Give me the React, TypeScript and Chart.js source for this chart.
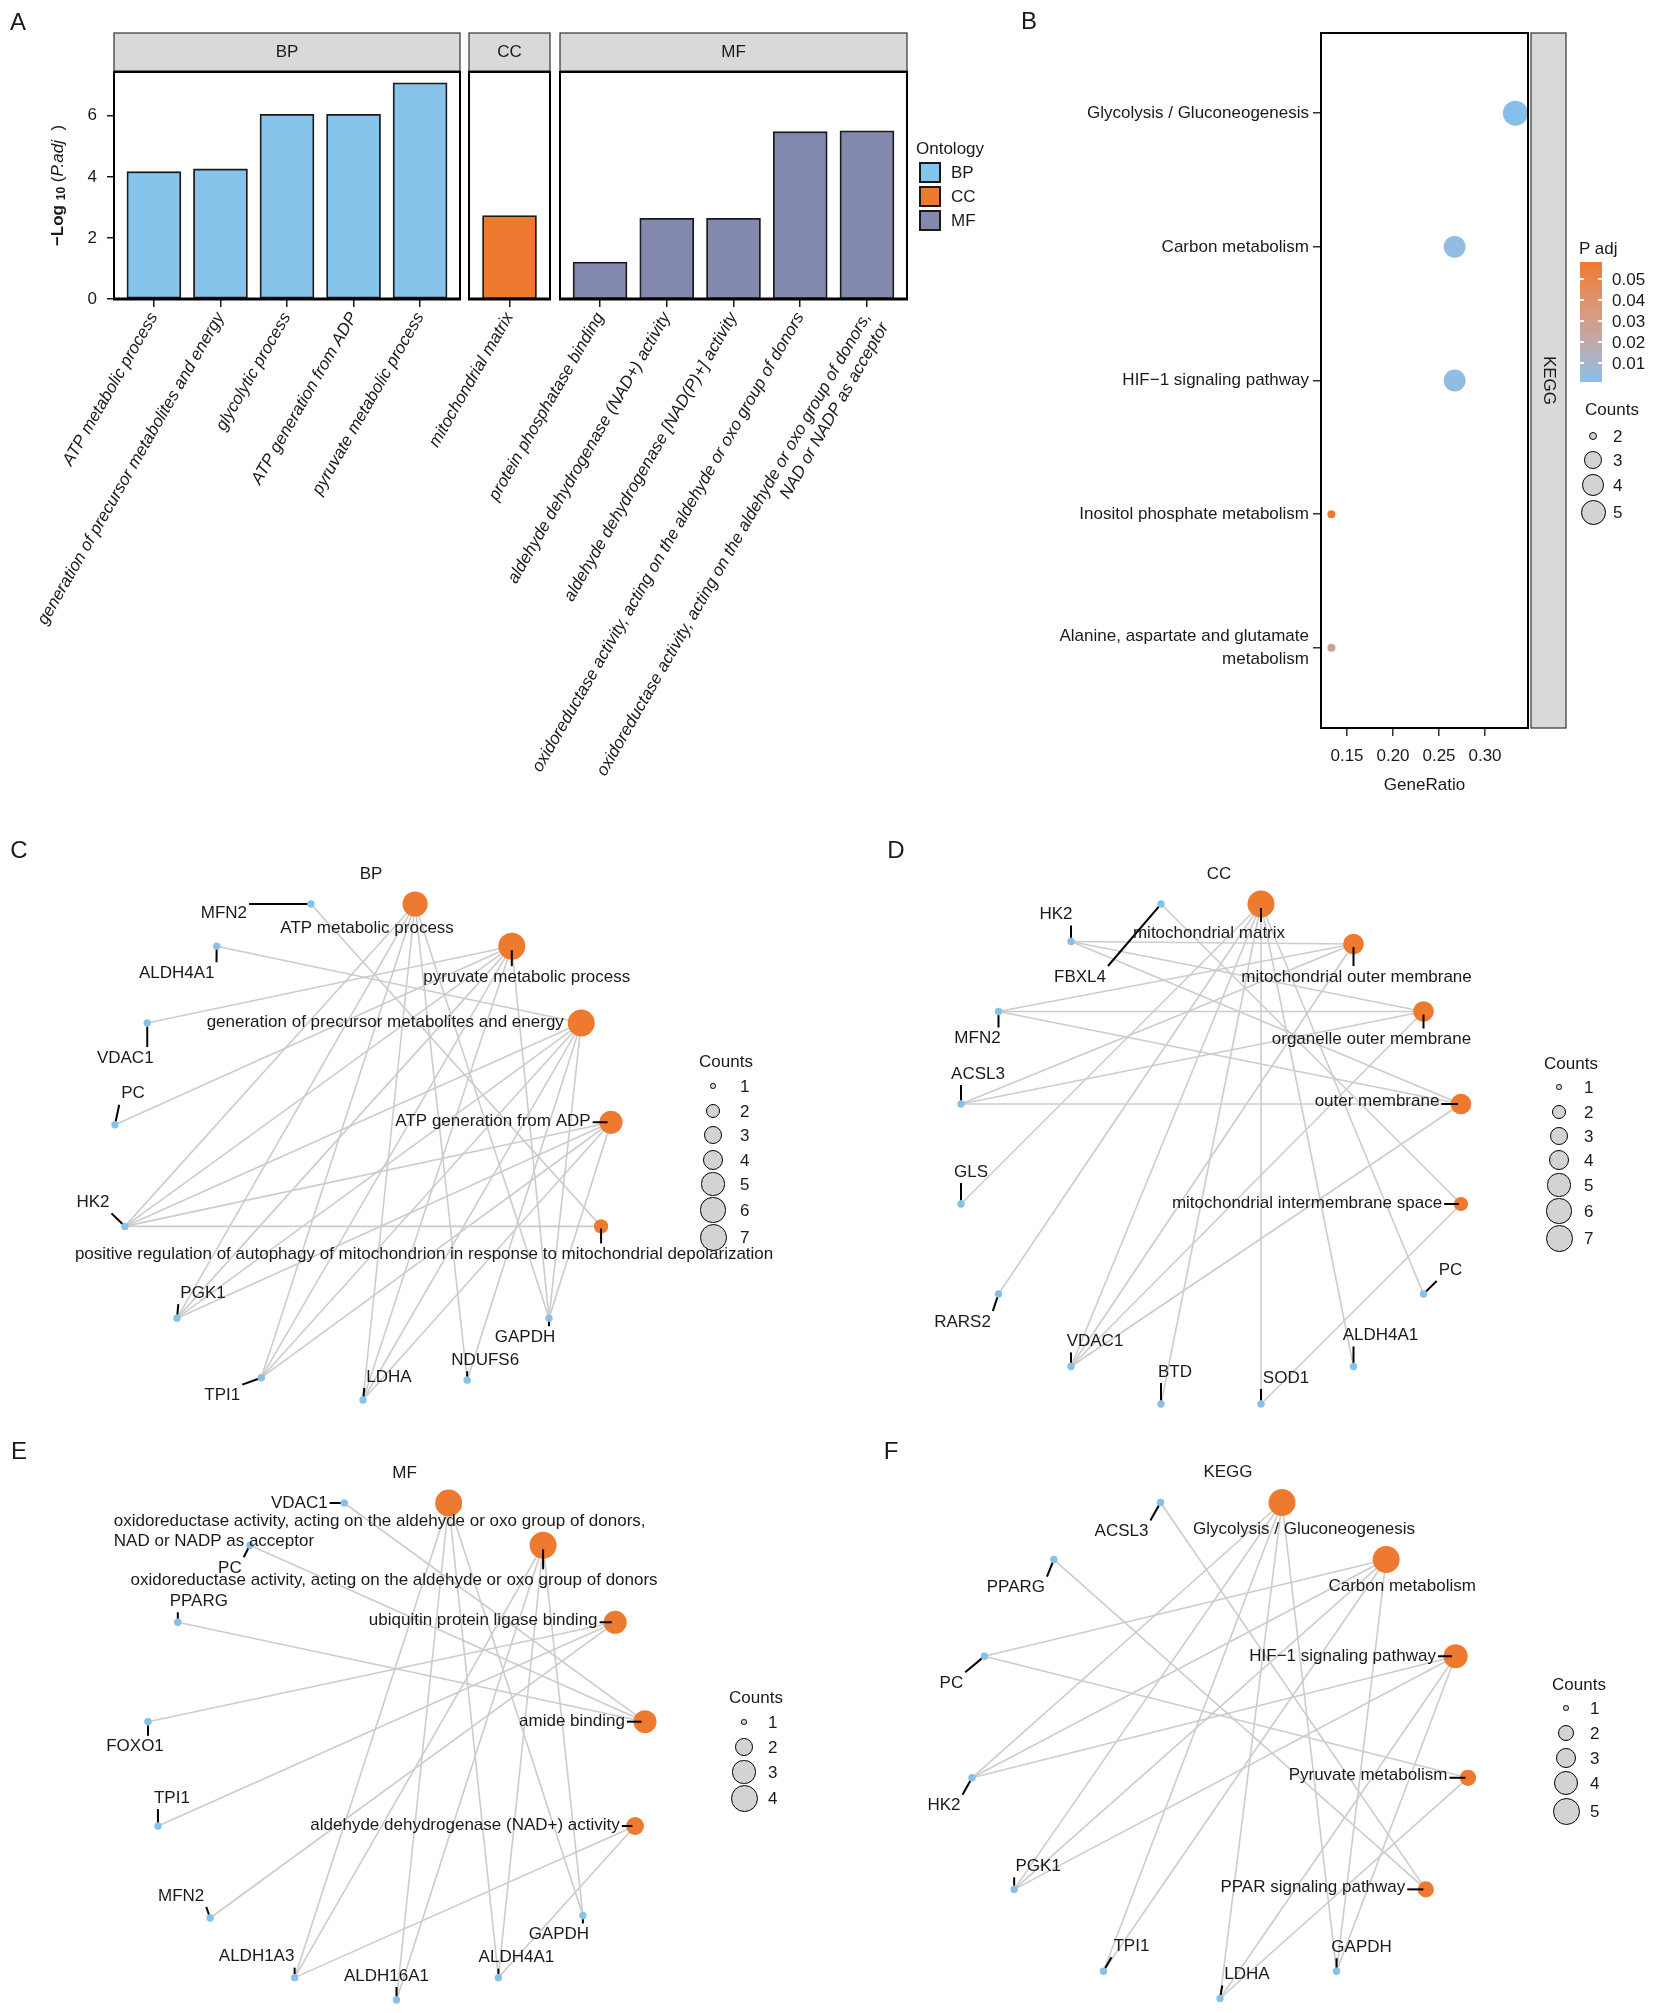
import React, { useEffect, useRef } from "react";
import { Chart, registerables } from "chart.js";

Chart.register(...registerables);

const FONT = "'Liberation Sans', Arial, Helvetica, sans-serif";
Chart.defaults.font.family = FONT;
const INK = "#1a1a1a";
const BLUE_BAR = "#87C4EC";
const ORANGE = "#EE7A2F";
const SLATE = "#8389AE";
const NODE_BLUE = "#86C1EA";
const EDGE = "#CCCCCC";
const STRIP = "#D9D9D9";

// ---------------- Panel A data ----------------
const bpTerms = [
  "ATP metabolic process",
  "generation of precursor metabolites and energy",
  "glycolytic process",
  "ATP generation from ADP",
  "pyruvate metabolic process",
];
const bpLogP = [4.17, 4.26, 6.05, 6.05, 7.08];
const ccTerms = ["mitochondrial matrix"];
const ccLogP = [2.73];
const mfTerms = [
  "protein phosphatase binding",
  "aldehyde dehydrogenase (NAD+) activity",
  "aldehyde dehydrogenase [NAD(P)+] activity",
  "oxidoreductase activity, acting on the aldehyde or oxo group of donors",
  "oxidoreductase activity, acting on the aldehyde or oxo group of donors,\nNAD or NADP as acceptor",
];
const mfLogP = [1.21, 2.64, 2.64, 5.48, 5.51];
const yTicksA = [0, 2, 4, 6];
const ontologyNames = ["BP", "CC", "MF"];
const ontologyColors = [BLUE_BAR, ORANGE, SLATE];

// ---------------- Panel B data ----------------
const keggTerms = [
  "Glycolysis / Gluconeogenesis",
  "Carbon metabolism",
  "HIF\u22121 signaling pathway",
  "Inositol phosphate metabolism",
  "Alanine, aspartate and glutamate\nmetabolism",
];
const keggGeneRatio = [0.333, 0.267, 0.267, 0.133, 0.133];
const keggCounts = [5, 4, 4, 2, 2];
const keggPadj = [0.00095, 0.0035, 0.0035, 0.0581, 0.027];
const geneRatioTicks = [0.15, 0.2, 0.25, 0.3];
const geneRatioLimits = [0.1217, 0.3467];
const padjBreaks = [0.05, 0.04, 0.03, 0.02, 0.01];
const keggCountBreaks = [2, 3, 4, 5];

// ---------------- Panel C (BP network) ----------------
const bpNetTerms = [
  "ATP metabolic process",
  "pyruvate metabolic process",
  "generation of precursor metabolites and energy",
  "ATP generation from ADP",
  "positive regulation of autophagy of mitochondrion in response to mitochondrial depolarization",
];
const bpNetTermX = [0.21, 0.6, 0.88, 1.0, 0.96];
const bpNetTermY = [1.0, 0.83, 0.52, 0.12, -0.3];
const bpNetGenes = ["GAPDH", "NDUFS6", "LDHA", "TPI1", "PGK1", "HK2", "PC", "VDAC1", "ALDH4A1", "MFN2"];
const bpNetGeneX = [0.75, 0.42, 0.0, -0.41, -0.75, -0.96, -1.0, -0.87, -0.59, -0.21];
const bpNetGeneY = [-0.67, -0.92, -1.0, -0.91, -0.67, -0.3, 0.11, 0.52, 0.83, 1.0];
const bpNetLinks = [
  ["HK2", "PGK1", "TPI1", "LDHA", "NDUFS6", "GAPDH"],
  ["VDAC1", "PC", "HK2", "PGK1", "TPI1", "LDHA", "GAPDH"],
  ["ALDH4A1", "HK2", "PGK1", "TPI1", "LDHA", "NDUFS6", "GAPDH"],
  ["HK2", "PGK1", "TPI1", "LDHA", "GAPDH"],
  ["MFN2", "HK2"],
];
const bpNetTermNudge = [[-48, 24], [15, 31], [-196, -1], [-118, -1], [-177, 28]];
const bpNetGeneNudge = [[-24, 19], [18, -20], [26, -23], [-39, 18], [26, -25], [-32, -24], [18, -31], [-22, 35], [-40, 27], [-87, 9]];

// ---------------- Panel D (CC network) ----------------
const ccNetTerms = [
  "mitochondrial matrix",
  "mitochondrial outer membrane",
  "organelle outer membrane",
  "outer membrane",
  "mitochondrial intermembrane space",
];
const ccNetTermX = [0.2, 0.57, 0.85, 1.0, 1.0];
const ccNetTermY = [1.0, 0.84, 0.57, 0.2, -0.2];
const ccNetGenes = ["PC", "ALDH4A1", "SOD1", "BTD", "VDAC1", "RARS2", "GLS", "ACSL3", "MFN2", "HK2", "FBXL4"];
const ccNetGeneX = [0.85, 0.57, 0.2, -0.2, -0.56, -0.85, -1.0, -1.0, -0.85, -0.56, -0.2];
const ccNetGeneY = [-0.56, -0.85, -1.0, -1.0, -0.85, -0.56, -0.2, 0.2, 0.57, 0.85, 1.0];
const ccNetLinks = [
  ["GLS", "RARS2", "VDAC1", "BTD", "SOD1", "ALDH4A1", "PC"],
  ["HK2", "MFN2", "ACSL3", "VDAC1"],
  ["HK2", "MFN2", "ACSL3", "VDAC1"],
  ["HK2", "MFN2", "ACSL3", "VDAC1"],
  ["FBXL4", "SOD1"],
];
const ccNetTermNudge = [[-52, 29], [3, 33], [-52, 28], [-84, -3], [-154, -1]];
const ccNetGeneNudge = [[27, -24], [27, -31], [25, -26], [14, -32], [24, -25], [-36, 28], [10, -32], [17, -30], [-21, 27], [-15, -27], [-81, 73]];

// ---------------- Panel E (MF network) ----------------
const mfNetTerms = [
  "oxidoreductase activity, acting on the aldehyde or oxo group of donors,\nNAD or NADP as acceptor",
  "oxidoreductase activity, acting on the aldehyde or oxo group of donors",
  "ubiquitin protein ligase binding",
  "amide binding",
  "aldehyde dehydrogenase (NAD+) activity",
];
const mfNetTermX = [0.21, 0.59, 0.88, 1.0, 0.96];
const mfNetTermY = [1.0, 0.83, 0.52, 0.12, -0.3];
const mfNetGenes = ["GAPDH", "ALDH4A1", "ALDH16A1", "ALDH1A3", "MFN2", "TPI1", "FOXO1", "PPARG", "PC", "VDAC1"];
const mfNetGeneX = [0.75, 0.41, 0.0, -0.41, -0.75, -0.96, -1.0, -0.88, -0.59, -0.21];
const mfNetGeneY = [-0.66, -0.91, -1.0, -0.91, -0.67, -0.3, 0.12, 0.52, 0.83, 1.0];
const mfNetLinks = [
  ["ALDH1A3", "ALDH16A1", "ALDH4A1", "GAPDH"],
  ["ALDH1A3", "ALDH16A1", "ALDH4A1", "GAPDH"],
  ["FOXO1", "TPI1", "MFN2"],
  ["PPARG", "PC", "VDAC1"],
  ["ALDH1A3", "ALDH4A1"],
];
const mfNetTermNudge = [[-69, 28], [-149, 35], [-132, -2], [-73, 0], [-170, -1]];
const mfNetGeneNudge = [[-24, 19], [18, -20], [-10, -24], [-38, -21], [-29, -22], [14, -28], [-13, 25], [21, -21], [-20, 23], [-45, 0]];

// ---------------- Panel F (KEGG network) ----------------
const kgNetTerms = [
  "Glycolysis / Gluconeogenesis",
  "Carbon metabolism",
  "HIF\u22121 signaling pathway",
  "Pyruvate metabolism",
  "PPAR signaling pathway",
];
const kgNetTermX = [0.25, 0.67, 0.95, 1.0, 0.83];
const kgNetTermY = [1.0, 0.77, 0.38, -0.11, -0.56];
const kgNetGenes = ["GAPDH", "LDHA", "TPI1", "PGK1", "HK2", "PC", "PPARG", "ACSL3"];
const kgNetGeneX = [0.47, 0.0, -0.47, -0.83, -1.0, -0.95, -0.67, -0.24];
const kgNetGeneY = [-0.89, -1.0, -0.89, -0.56, -0.11, 0.38, 0.77, 1.0];
const kgNetLinks = [
  ["HK2", "PGK1", "TPI1", "LDHA", "GAPDH"],
  ["PC", "HK2", "PGK1", "TPI1", "GAPDH"],
  ["HK2", "PGK1", "LDHA", "GAPDH"],
  ["PC", "LDHA"],
  ["PPARG", "ACSL3"],
];
const kgNetTermNudge = [[22, 27], [16, 27], [-113, 0], [-100, -2], [-113, -2]];
const kgNetGeneNudge = [[25, -24], [27, -24], [28, -25], [24, -23], [-28, 28], [-33, 27], [-38, 28], [-39, 29]];

// ---------------- helpers ----------------
const netSize = (n: number, nMax: number) => (5.4 + 21.6 * Math.sqrt((n - 1) / (nMax - 1))) / 2;
const keggSize = (n: number) => (8 + 17 * Math.sqrt((n - 2) / 3)) / 2;
const GENE_R = 3.7;

const LOW_RGB = [134, 192, 234];
const HIGH_RGB = [238, 122, 47];
const toLin = (c: number) => { c /= 255; return c <= 0.04045 ? c / 12.92 : Math.pow((c + 0.055) / 1.055, 2.4); };
const fromLin = (c: number) => { const v = c <= 0.0031308 ? 12.92 * c : 1.055 * Math.pow(c, 1 / 2.4) - 0.055; return Math.round(Math.min(1, Math.max(0, v)) * 255); };
function rgb2lab(rgb: number[]) {
  const [r, g, b] = rgb.map(toLin);
  const X = (0.4124564 * r + 0.3575761 * g + 0.1804375 * b) / 0.95047;
  const Y = 0.2126729 * r + 0.7151522 * g + 0.072175 * b;
  const Z = (0.0193339 * r + 0.119192 * g + 0.9503041 * b) / 1.08883;
  const f = (t: number) => (t > 216 / 24389 ? Math.cbrt(t) : ((24389 / 27) * t + 16) / 116);
  const fx = f(X), fy = f(Y), fz = f(Z);
  return [116 * fy - 16, 500 * (fx - fy), 200 * (fy - fz)];
}
function lab2rgb(lab: number[]) {
  const [L, a, b] = lab;
  const fy = (L + 16) / 116, fx = fy + a / 500, fz = fy - b / 200;
  const inv = (t: number) => { const t3 = t * t * t; return t3 > 216 / 24389 ? t3 : (116 * t - 16) / (24389 / 27); };
  const X = inv(fx) * 0.95047, Y = inv(fy), Z = inv(fz) * 1.08883;
  const r = 3.2404542 * X - 1.5371385 * Y - 0.4985314 * Z;
  const g = -0.969266 * X + 1.8760108 * Y + 0.041556 * Z;
  const bb = 0.0556434 * X - 0.2040259 * Y + 1.0572252 * Z;
  return [fromLin(r), fromLin(g), fromLin(bb)];
}
const PMIN = Math.min(...keggPadj);
const PMAX = Math.max(...keggPadj);
function padjColor(p: number) {
  const t = Math.max(0, Math.min(1, (p - PMIN) / (PMAX - PMIN)));
  const A = rgb2lab(LOW_RGB), B = rgb2lab(HIGH_RGB);
  const [r, g, b] = lab2rgb(A.map((v, i) => v + (B[i] - v) * t));
  return `rgb(${r},${g},${b})`;
}

// ---------------- Panel A charts ----------------
const A_W = 960, A_H = 800, A_TOP = 72, A_BOTTOM = 299, Y_AXIS_W = 40;
const A_YMAX = Math.max(...bpLogP, ...ccLogP, ...mfLogP) * 1.05;

function facetPlugin(strip: string, withTitle: boolean) {
  return {
    id: "facet" + strip,
    afterDraw(chart: any) {
      const { ctx, chartArea: a } = chart;
      ctx.save();
      ctx.fillStyle = STRIP;
      ctx.fillRect(a.left, a.top - 39, a.right - a.left, 38);
      ctx.strokeStyle = "#333";
      ctx.lineWidth = 1.2;
      ctx.strokeRect(a.left, a.top - 39, a.right - a.left, 38);
      ctx.fillStyle = INK;
      ctx.font = `17px ${FONT}`;
      ctx.textAlign = "center";
      ctx.textBaseline = "middle";
      ctx.fillText(strip, (a.left + a.right) / 2, a.top - 20);
      ctx.strokeStyle = "#000";
      ctx.lineWidth = 2;
      ctx.strokeRect(a.left, a.top, a.right - a.left, a.bottom - a.top);
      ctx.lineWidth = 3;
      ctx.beginPath();
      ctx.moveTo(a.left - 1, a.bottom);
      ctx.lineTo(a.right + 1, a.bottom);
      ctx.stroke();
      if (withTitle) {
        const segs = [
          { t: "\u2212Log ", f: `bold 17px ${FONT}`, dy: 0 },
          { t: "10", f: `bold 12px ${FONT}`, dy: 4 },
          { t: " (", f: `17px ${FONT}`, dy: 0 },
          { t: "P.adj", f: `italic 17px ${FONT}`, dy: 0 },
          { t: "  )", f: `17px ${FONT}`, dy: 0 },
        ];
        let total = 0;
        segs.forEach((s) => { ctx.font = s.f; total += ctx.measureText(s.t).width; });
        ctx.translate(58, (a.top + a.bottom) / 2);
        ctx.rotate(-Math.PI / 2);
        ctx.textAlign = "left";
        let x = -total / 2;
        segs.forEach((s) => {
          ctx.font = s.f;
          ctx.fillText(s.t, x, s.dy);
          x += ctx.measureText(s.t).width;
        });
      }
      ctx.restore();
    },
  };
}

function facetConfig(labels: string[], values: number[], color: string, strip: string, left: number, right: number, showY: boolean) {
  return {
    type: "bar",
    data: {
      datasets: [
        {
          data: values.map((v, i) => ({ x: i, y: v })),
          backgroundColor: color,
          borderColor: "#1a1a1a",
          borderWidth: 1.8,
          borderSkipped: false,
          barThickness: 54,
        },
      ],
    },
    options: {
      animation: false,
      responsive: false,
      events: [],
      layout: { autoPadding: false, padding: { left: showY ? left - Y_AXIS_W : left, right: A_W - right, top: A_TOP, bottom: 0 } },
      plugins: { legend: { display: false }, tooltip: { enabled: false } },
      scales: {
        x: {
          type: "linear",
          min: -0.6,
          max: labels.length - 0.4,
          offset: false,
          bounds: "data",
          afterBuildTicks: (s: any) => { s.ticks = labels.map((_, i) => ({ value: i })); },
          afterFit: (s: any) => { s.height = A_H - A_BOTTOM; },
          grid: { display: true, drawOnChartArea: false, drawTicks: true, tickLength: 8, color: "#1a1a1a", lineWidth: 1.5, offset: false },
          border: { display: false },
          ticks: {
            autoSkip: false,
            minRotation: 60,
            maxRotation: 60,
            padding: 2,
            color: INK,
            font: { family: FONT, size: 17, style: "italic" },
            callback: (v: number) => (labels[v] !== undefined ? labels[v].split("\n") : ""),
          },
        },
        y: {
          display: showY,
          type: "linear",
          min: 0,
          max: A_YMAX,
          bounds: "data",
          afterBuildTicks: (s: any) => { s.ticks = yTicksA.map((v) => ({ value: v })); },
          afterFit: (s: any) => { if (showY) s.width = Y_AXIS_W; },
          grid: { display: true, drawOnChartArea: false, drawTicks: true, tickLength: 7, color: "#1a1a1a", lineWidth: 1.5 },
          border: { display: false },
          ticks: { padding: 10, color: INK, font: { family: FONT, size: 17 } },
        },
      },
    },
    plugins: [facetPlugin(strip, showY)],
  };
}

// ---------------- Panel B chart ----------------
const keggStripPlugin = {
  id: "keggStrip",
  afterDraw(chart: any) {
    const { ctx, chartArea: a } = chart;
    ctx.save();
    ctx.strokeStyle = "#000";
    ctx.lineWidth = 2;
    ctx.strokeRect(a.left, a.top, a.right - a.left, a.bottom - a.top);
    const sx = a.right + 3, sw = 35;
    ctx.fillStyle = STRIP;
    ctx.fillRect(sx, a.top, sw, a.bottom - a.top);
    ctx.strokeStyle = "#333";
    ctx.lineWidth = 1.2;
    ctx.strokeRect(sx, a.top, sw, a.bottom - a.top);
    ctx.translate(sx + sw / 2, (a.top + a.bottom) / 2);
    ctx.rotate(Math.PI / 2);
    ctx.fillStyle = INK;
    ctx.font = `17px ${FONT}`;
    ctx.textAlign = "center";
    ctx.textBaseline = "middle";
    ctx.fillText("KEGG", 0, 0);
    ctx.restore();
  },
};

function keggConfig() {
  return {
    type: "scatter",
    data: {
      datasets: [
        {
          data: keggGeneRatio.map((g, i) => ({ x: g, y: i })),
          pointRadius: keggCounts.map(keggSize),
          pointBackgroundColor: keggPadj.map(padjColor),
          pointBorderWidth: 0,
        },
      ],
    },
    options: {
      animation: false,
      responsive: false,
      events: [],
      layout: { autoPadding: false, padding: { left: 0, right: 126, top: 33, bottom: 0 } },
      plugins: { legend: { display: false }, tooltip: { enabled: false } },
      scales: {
        x: {
          type: "linear",
          min: geneRatioLimits[0],
          max: geneRatioLimits[1],
          bounds: "data",
          afterBuildTicks: (s: any) => { s.ticks = geneRatioTicks.map((v) => ({ value: v })); },
          afterFit: (s: any) => { s.height = 72; },
          grid: { display: true, drawOnChartArea: false, drawTicks: true, tickLength: 8, color: "#333", lineWidth: 1.5 },
          border: { display: false },
          ticks: { padding: 10, color: INK, font: { family: FONT, size: 17 }, callback: (v: number) => v.toFixed(2) },
          title: { display: true, text: "GeneRatio", color: INK, font: { family: FONT, size: 17 }, padding: { top: 4, bottom: 4 } },
        },
        y: {
          type: "linear",
          reverse: true,
          min: -0.6,
          max: keggTerms.length - 0.4,
          bounds: "data",
          afterBuildTicks: (s: any) => { s.ticks = keggTerms.map((_, i) => ({ value: i })); },
          afterFit: (s: any) => { s.width = 321; },
          grid: { display: true, drawOnChartArea: false, drawTicks: true, tickLength: 8, color: "#333", lineWidth: 1.5 },
          border: { display: false },
          ticks: {
            padding: 4,
            color: INK,
            font: { family: FONT, size: 17, lineHeight: 1.35 },
            callback: (v: number) => (keggTerms[v] !== undefined ? keggTerms[v].split("\n") : ""),
          },
        },
      },
    },
    plugins: [keggStripPlugin],
  };
}

// ---------------- Network charts ----------------
type NetSpec = {
  title: string;
  terms: string[]; termX: number[]; termY: number[]; termNudge: number[][];
  genes: string[]; geneX: number[]; geneY: number[]; geneNudge: number[][];
  links: string[][];
};
type Geo = { left: number; top: number; width: number; height: number; cx: number; cy: number; R: number };

const bpNet: NetSpec = { title: "BP", terms: bpNetTerms, termX: bpNetTermX, termY: bpNetTermY, termNudge: bpNetTermNudge, genes: bpNetGenes, geneX: bpNetGeneX, geneY: bpNetGeneY, geneNudge: bpNetGeneNudge, links: bpNetLinks };
const ccNet: NetSpec = { title: "CC", terms: ccNetTerms, termX: ccNetTermX, termY: ccNetTermY, termNudge: ccNetTermNudge, genes: ccNetGenes, geneX: ccNetGeneX, geneY: ccNetGeneY, geneNudge: ccNetGeneNudge, links: ccNetLinks };
const mfNet: NetSpec = { title: "MF", terms: mfNetTerms, termX: mfNetTermX, termY: mfNetTermY, termNudge: mfNetTermNudge, genes: mfNetGenes, geneX: mfNetGeneX, geneY: mfNetGeneY, geneNudge: mfNetGeneNudge, links: mfNetLinks };
const kgNet: NetSpec = { title: "KEGG", terms: kgNetTerms, termX: kgNetTermX, termY: kgNetTermY, termNudge: kgNetTermNudge, genes: kgNetGenes, geneX: kgNetGeneX, geneY: kgNetGeneY, geneNudge: kgNetGeneNudge, links: kgNetLinks };

const geoC: Geo = { left: 0, top: 830, width: 827, height: 600, cx: 363, cy: 1152, R: 248 };
const geoD: Geo = { left: 827, top: 830, width: 827, height: 600, cx: 1211, cy: 1154, R: 250 };
const geoE: Geo = { left: 0, top: 1430, width: 827, height: 583, cx: 396.5, cy: 1751.5, R: 248.5 };
const geoF: Geo = { left: 827, top: 1430, width: 827, height: 583, cx: 1220, cy: 1750.5, R: 248 };

function netPlugin(spec: NetSpec, termR: number[]) {
  return {
    id: "net" + spec.title,
    afterDatasetsDraw(chart: any) {
      const { ctx, scales } = chart;
      const xs = scales.x, ys = scales.y;
      ctx.save();
      ctx.font = `17px ${FONT}`;
      const lh = 20;
      const nodes = [
        ...spec.terms.map((t, i) => ({ text: t, x: spec.termX[i], y: spec.termY[i], r: termR[i], nudge: spec.termNudge[i], term: true })),
        ...spec.genes.map((g, i) => ({ text: g, x: spec.geneX[i], y: spec.geneY[i], r: GENE_R, nudge: spec.geneNudge[i], term: false })),
      ];
      const boxes = nodes.map((n) => {
        const px = xs.getPixelForValue(n.x), py = ys.getPixelForValue(n.y);
        const lines = n.text.split("\n");
        const w = Math.max(...lines.map((l) => ctx.measureText(l).width));
        const h = lines.length * lh;
        const cx = px + n.nudge[0], cy = py + n.nudge[1];
        return { ...n, px, py, lines, w, h, l: cx - w / 2, t: cy - h / 2 };
      });
      ctx.strokeStyle = "#000";
      ctx.lineWidth = 2;
      boxes.forEach((b) => {
        const qx = Math.min(Math.max(b.px, b.l - 2), b.l + b.w + 2);
        const qy = Math.min(Math.max(b.py, b.t - 1), b.t + b.h + 1);
        const dx = qx - b.px, dy = qy - b.py;
        const d = Math.hypot(dx, dy);
        if (d > b.r + 4) {
          const s = b.term ? b.r * 0.3 : b.r;
          ctx.beginPath();
          ctx.moveTo(b.px + (dx / d) * s, b.py + (dy / d) * s);
          ctx.lineTo(qx, qy);
          ctx.stroke();
        }
      });
      ctx.fillStyle = INK;
      ctx.textAlign = "left";
      ctx.textBaseline = "middle";
      boxes.forEach((b) => b.lines.forEach((line, k) => ctx.fillText(line, b.l, b.t + lh * (k + 0.5))));
      ctx.textAlign = "center";
      ctx.fillText(spec.title, xs.getPixelForValue(0) + 8, ys.getPixelForValue(1) - 30);
      ctx.restore();
    },
  };
}

function netConfig(spec: NetSpec, geo: Geo) {
  const counts = spec.links.map((l) => l.length);
  const nMax = Math.max(...counts);
  const termR = counts.map((n) => netSize(n, nMax));
  const edges: any[] = [];
  spec.links.forEach((gs, ti) =>
    gs.forEach((g) => {
      const gi = spec.genes.indexOf(g);
      edges.push({
        type: "line",
        data: [
          { x: spec.geneX[gi], y: spec.geneY[gi] },
          { x: spec.termX[ti], y: spec.termY[ti] },
        ],
        borderColor: EDGE,
        borderWidth: 1.6,
        pointRadius: 0,
        fill: false,
        tension: 0,
      });
    })
  );
  return {
    type: "scatter",
    data: {
      datasets: [
        {
          data: spec.termX.map((x, i) => ({ x, y: spec.termY[i] })),
          pointRadius: termR,
          pointBackgroundColor: ORANGE,
          pointBorderWidth: 0,
        },
        {
          data: spec.geneX.map((x, i) => ({ x, y: spec.geneY[i] })),
          pointRadius: GENE_R,
          pointBackgroundColor: NODE_BLUE,
          pointBorderWidth: 0,
        },
        ...edges,
      ],
    },
    options: {
      animation: false,
      responsive: false,
      events: [],
      layout: { autoPadding: false, padding: 0 },
      plugins: { legend: { display: false }, tooltip: { enabled: false } },
      scales: {
        x: { type: "linear", display: false, bounds: "data", min: (geo.left - geo.cx) / geo.R, max: (geo.left + geo.width - geo.cx) / geo.R },
        y: { type: "linear", display: false, bounds: "data", min: (geo.cy - geo.top - geo.height) / geo.R, max: (geo.cy - geo.top) / geo.R },
      },
    },
    plugins: [netPlugin(spec, termR)],
  };
}

// ---------------- React components ----------------
function ChartBox({ left, top, width, height, make }: any) {
  const ref = useRef<HTMLCanvasElement | null>(null);
  useEffect(() => {
    const chart = new Chart(ref.current as any, make());
    return () => chart.destroy();
  }, []);
  return <canvas ref={ref} width={width} height={height} style={{ position: "absolute", left, top, width, height }} />;
}

function T({ x, y, children, size = 17, anchor = "left", weight = "normal" }: any) {
  return (
    <div
      style={{
        position: "absolute",
        left: x,
        top: y,
        transform: anchor === "center" ? "translate(-50%,-50%)" : "translate(0,-50%)",
        font: `${weight} ${size}px ${FONT}`,
        color: INK,
        whiteSpace: "nowrap",
        lineHeight: 1,
      }}
    >
      {children}
    </div>
  );
}

function Circle({ cx, cy, r }: any) {
  return (
    <div
      style={{
        position: "absolute",
        left: cx - r,
        top: cy - r,
        width: 2 * r,
        height: 2 * r,
        boxSizing: "border-box",
        borderRadius: "50%",
        border: "1.6px solid #000",
        background: "#D3D3D3",
      }}
    />
  );
}

function CountsLegend({ tx, ty, cx, lx, ys, breaks, size }: any) {
  return (
    <>
      <T x={tx} y={ty} anchor="center">Counts</T>
      {breaks.map((b: number, i: number) => (
        <React.Fragment key={b}>
          <Circle cx={cx} cy={ys[i]} r={size(b)} />
          <T x={lx} y={ys[i]}>{b}</T>
        </React.Fragment>
      ))}
    </>
  );
}

const range = (n: number) => Array.from({ length: n }, (_, i) => i + 1);
const netMax = (spec: NetSpec) => Math.max(...spec.links.map((l) => l.length));

export default function App() {
  const cbTop = 262, cbH = 120;
  const padjY = (p: number) => cbTop + ((PMAX - p) / (PMAX - PMIN)) * cbH;
  const gradStops = Array.from({ length: 11 }, (_, k) => `${padjColor(PMIN + ((PMAX - PMIN) * k) / 10)} ${k * 10}%`).join(",");
  return (
    <div style={{ position: "absolute", left: 0, top: 0, width: 1654, height: 2013, background: "#fff", overflow: "hidden", fontFamily: FONT }}>
      {/* Panel A */}
      <ChartBox left={0} top={0} width={A_W} height={A_H} make={() => facetConfig(bpTerms, bpLogP, BLUE_BAR, "BP", 114, 460, true)} />
      <ChartBox left={0} top={0} width={A_W} height={A_H} make={() => facetConfig(ccTerms, ccLogP, ORANGE, "CC", 469, 550, false)} />
      <ChartBox left={0} top={0} width={A_W} height={A_H} make={() => facetConfig(mfTerms, mfLogP, SLATE, "MF", 560, 907, false)} />
      <T x={916} y={148}>Ontology</T>
      {ontologyNames.map((n, i) => (
        <React.Fragment key={n}>
          <div style={{ position: "absolute", left: 919, top: 162 + i * 24, width: 22, height: 21, boxSizing: "border-box", background: ontologyColors[i], border: "2px solid #1a1a1a" }} />
          <T x={951} y={172 + i * 24}>{n}</T>
        </React.Fragment>
      ))}

      {/* Panel B */}
      <ChartBox left={1000} top={0} width={654} height={800} make={keggConfig} />
      <T x={1579} y={248}>P adj</T>
      <div style={{ position: "absolute", left: 1580, top: cbTop, width: 22, height: cbH, background: `linear-gradient(to top, ${gradStops})` }} />
      {padjBreaks.map((p) => (
        <React.Fragment key={p}>
          <div style={{ position: "absolute", left: 1580, top: padjY(p) - 0.75, width: 4, height: 1.5, background: "#fff" }} />
          <div style={{ position: "absolute", left: 1598, top: padjY(p) - 0.75, width: 4, height: 1.5, background: "#fff" }} />
          <T x={1612} y={padjY(p)}>{p.toFixed(2)}</T>
        </React.Fragment>
      ))}
      <CountsLegend tx={1612} ty={409} cx={1593} lx={1613} ys={[436, 460, 485, 512]} breaks={keggCountBreaks} size={keggSize} />

      {/* Networks */}
      <ChartBox left={geoC.left} top={geoC.top} width={geoC.width} height={geoC.height} make={() => netConfig(bpNet, geoC)} />
      <ChartBox left={geoD.left} top={geoD.top} width={geoD.width} height={geoD.height} make={() => netConfig(ccNet, geoD)} />
      <ChartBox left={geoE.left} top={geoE.top} width={geoE.width} height={geoE.height} make={() => netConfig(mfNet, geoE)} />
      <ChartBox left={geoF.left} top={geoF.top} width={geoF.width} height={geoF.height} make={() => netConfig(kgNet, geoF)} />
      <CountsLegend tx={726} ty={1061} cx={713} lx={740} ys={[1086, 1111, 1135, 1160, 1184, 1210, 1237]} breaks={range(netMax(bpNet))} size={(n: number) => netSize(n, netMax(bpNet))} />
      <CountsLegend tx={1571} ty={1063} cx={1559} lx={1584} ys={[1087, 1112, 1136, 1160, 1185, 1211, 1238]} breaks={range(netMax(ccNet))} size={(n: number) => netSize(n, netMax(ccNet))} />
      <CountsLegend tx={756} ty={1697} cx={744} lx={768} ys={[1722, 1747, 1772, 1798]} breaks={range(netMax(mfNet))} size={(n: number) => netSize(n, netMax(mfNet))} />
      <CountsLegend tx={1579} ty={1684} cx={1566} lx={1590} ys={[1708, 1733, 1758, 1783, 1811]} breaks={range(netMax(kgNet))} size={(n: number) => netSize(n, netMax(kgNet))} />

      {/* Panel letters */}
      <T x={18} y={22} size={24} anchor="center">A</T>
      <T x={1029} y={21} size={24} anchor="center">B</T>
      <T x={19} y={850} size={24} anchor="center">C</T>
      <T x={896} y={850} size={24} anchor="center">D</T>
      <T x={19} y={1451} size={24} anchor="center">E</T>
      <T x={891} y={1451} size={24} anchor="center">F</T>
    </div>
  );
}
